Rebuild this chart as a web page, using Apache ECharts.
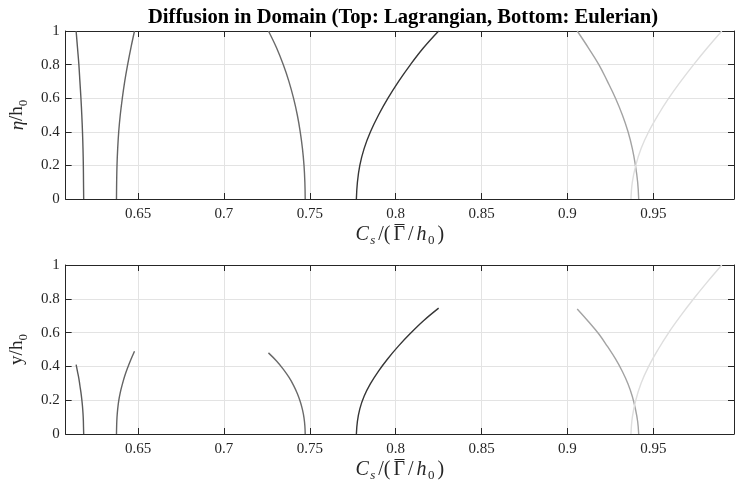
<!DOCTYPE html>
<html>
<head>
<meta charset="utf-8">
<script src="https://cdn.jsdelivr.net/npm/echarts@6/dist/echarts.min.js"></script>
<style>
  html, body { margin: 0; padding: 0; background: #fff; }
  #chart { width: 735px; height: 485px; }
</style>
</head>
<body>
<div id="chart"></div>
<script>
// x tick labels
const xTicks = [0.65, 0.7, 0.75, 0.8, 0.85, 0.9, 0.95];

// normalised depth (top panel, Lagrangian)
const etaLevels = [0, 0.1, 0.2, 0.3, 0.4, 0.5, 0.6, 0.7, 0.8, 0.9, 1];

// Cs/(Gamma/h0) of each profile at those depths
const profile1X = [0.6183, 0.6182, 0.6181, 0.6179, 0.6176, 0.6172, 0.6167, 0.6161, 0.6155, 0.6147, 0.6139];
const profile2X = [0.6374, 0.6375, 0.6377, 0.6381, 0.6387, 0.6396, 0.6408, 0.6422, 0.6439, 0.6458, 0.6479];
const profile3X = [0.7473, 0.7471, 0.7466, 0.7457, 0.7444, 0.7427, 0.7405, 0.7378, 0.7345, 0.7306, 0.7259];
const profile4X = [0.7771, 0.7777, 0.7791, 0.7816, 0.7853, 0.7900, 0.7955, 0.8017, 0.8086, 0.8162, 0.8250];
const profile5X = [0.9415, 0.9409, 0.9396, 0.9378, 0.9353, 0.9320, 0.9280, 0.9233, 0.9183, 0.9122, 0.9057];
const profile6X = [0.9370, 0.9378, 0.9398, 0.9429, 0.9473, 0.9528, 0.9590, 0.9660, 0.9735, 0.9815, 0.9899];

// physical height of the same points (bottom panel, Eulerian)
const profile1Y = [0, 0.041, 0.082, 0.123, 0.164, 0.205, 0.246, 0.287, 0.328, 0.369, 0.41];
const profile2Y = [0, 0.049, 0.098, 0.147, 0.196, 0.245, 0.294, 0.343, 0.392, 0.441, 0.49];
const profile3Y = [0, 0.048, 0.096, 0.144, 0.192, 0.24, 0.288, 0.336, 0.384, 0.432, 0.48];
const profile4Y = [0, 0.0745, 0.149, 0.2235, 0.298, 0.3725, 0.447, 0.5215, 0.596, 0.6705, 0.745];
const profile5Y = [0, 0.074, 0.148, 0.222, 0.296, 0.37, 0.444, 0.518, 0.592, 0.666, 0.74];
const profile6Y = [0, 0.1, 0.2, 0.3, 0.4, 0.5, 0.6, 0.7, 0.8, 0.9, 1];

const profileColors = ['#5a5a5a', '#646464', '#6a6a6a', '#363636', '#a3a3a3', '#dedede'];

const serif = '"Liberation Serif", "Times New Roman", serif';
const ink = '#262626';

function pairs(xs, ys) {
    return xs.map((x, i) => [x, ys[i]]);
}

const profilesX = [profile1X, profile2X, profile3X, profile4X, profile5X, profile6X];
const profilesY = [profile1Y, profile2Y, profile3Y, profile4Y, profile5Y, profile6Y];

// rich styles for the axis names (math-like)
const padX = 1.5;
const nameRich = {
    i: { fontFamily: serif, fontStyle: 'italic', fontSize: 20, color: ink, verticalAlign: 'top', padding: [0, padX, 0, padX] },
    n: { fontFamily: serif, fontSize: 20, color: ink, verticalAlign: 'top', padding: [0, padX, 0, padX] },
    sub: { fontFamily: serif, fontSize: 13, color: ink, verticalAlign: 'top', padding: [9, padX, 0, 0] },
    isub: { fontFamily: serif, fontStyle: 'italic', fontSize: 13, color: ink, verticalAlign: 'top', padding: [9, padX, 0, 0] },
    ysub: { fontFamily: serif, fontSize: 13, color: ink, verticalAlign: 'top', padding: [9, 0, 0, 0] },
    yi: { fontFamily: serif, fontStyle: 'italic', fontSize: 19, color: ink, verticalAlign: 'top' },
    yn: { fontFamily: serif, fontSize: 19, color: ink, verticalAlign: 'top' }
};

// x-axis name, token by token; token 3 (Gamma) gets a bar on a thin line above
const xNameTokens = [['i', 'C'], ['isub', 's'], ['n', '/('], ['n', 'Γ'], ['n', '/'], ['i', 'h'], ['sub', '0'], ['n', ')']];

const measureCtx = document.createElement('canvas').getContext('2d');
function tokenWidth(t) {
    const s = nameRich[t[0]];
    measureCtx.font = (s.fontStyle === 'italic' ? 'italic ' : '') + s.fontSize + 'px ' + serif;
    return measureCtx.measureText(t[1]).width + s.padding[1] + s.padding[3];
}
const tokenWidths = xNameTokens.map(tokenWidth);
const nameWidth = tokenWidths.reduce((a, b) => a + b, 0);
const barStart = tokenWidths.slice(0, 3).reduce((a, b) => a + b, 0) + padX + 1;
const barWidth = tokenWidths[3] - 2 * padX - 1.5;

const thin = { fontSize: 1, lineHeight: 1, height: 1, color: 'rgba(0,0,0,0)', verticalAlign: 'top' };
nameRich.sp1 = Object.assign({ width: barStart }, thin);
nameRich.ov = Object.assign({ width: barWidth, backgroundColor: ink }, thin);
nameRich.sp2 = Object.assign({ width: nameWidth - barStart - barWidth }, thin);

const xName = '{sp1| }{ov| }{sp2| }\n' + xNameTokens.map(t => '{' + t[0] + '|' + t[1] + '}').join('');

function xAxisMain(grid) {
    return {
        type: 'value', gridIndex: grid, position: 'bottom',
        min: 0.6078, max: 0.997,
        name: xName,
        nameLocation: 'middle', nameGap: 25,
        nameTextStyle: { rich: nameRich },
        axisLine: { show: true, onZero: false, lineStyle: { color: ink, width: 1 } },
        axisTick: { show: true, inside: true, length: 6, customValues: xTicks, lineStyle: { color: ink } },
        axisLabel: { customValues: xTicks, color: ink, fontFamily: serif, fontSize: 15, margin: 8 },
        splitLine: { show: true, lineStyle: { color: '#e3e3e3', width: 1 } }
    };
}

function xAxisTop(grid) {
    return {
        type: 'value', gridIndex: grid, position: 'top',
        min: 0.6078, max: 0.997,
        axisLine: { show: true, onZero: false, lineStyle: { color: ink, width: 1 } },
        axisTick: { show: true, inside: true, length: 6, customValues: xTicks, lineStyle: { color: ink } },
        axisLabel: { show: false },
        splitLine: { show: false }
    };
}

function yAxisMain(grid, label) {
    return {
        type: 'value', gridIndex: grid, position: 'left',
        min: 0, max: 1, interval: 0.2,
        name: label, nameLocation: 'middle', nameGap: 26,
        nameTextStyle: { rich: nameRich },
        axisLine: { show: true, onZero: false, lineStyle: { color: ink, width: 1 } },
        axisTick: { show: true, inside: true, length: 6, lineStyle: { color: ink } },
        axisLabel: { color: ink, fontFamily: serif, fontSize: 15, margin: 6 },
        splitLine: { show: true, lineStyle: { color: '#e3e3e3', width: 1 } }
    };
}

function yAxisRight(grid) {
    return {
        type: 'value', gridIndex: grid, position: 'right',
        min: 0, max: 1, interval: 0.2,
        axisLine: { show: true, onZero: false, lineStyle: { color: ink, width: 1 } },
        axisTick: { show: true, inside: true, length: 6, lineStyle: { color: ink } },
        axisLabel: { show: false },
        splitLine: { show: false }
    };
}

const series = [];
profilesX.forEach((xs, k) => {
    series.push({
        type: 'line', xAxisIndex: 0, yAxisIndex: 0,
        data: pairs(xs, etaLevels),
        smooth: 0.4, showSymbol: false, silent: true,
        lineStyle: { color: profileColors[k], width: 1.4 }
    });
    series.push({
        type: 'line', xAxisIndex: 2, yAxisIndex: 2,
        data: pairs(xs, profilesY[k]),
        smooth: 0.4, showSymbol: false, silent: true,
        lineStyle: { color: profileColors[k], width: 1.4 }
    });
});

const option = {
    animation: false,
    backgroundColor: '#fff',
    title: {
        text: 'Diffusion in Domain (Top: Lagrangian, Bottom: Eulerian)',
        left: 398, top: 2, textAlign: 'center',
        textStyle: { fontFamily: serif, fontWeight: 'bold', fontSize: 20.6, color: '#000' }
    },
    grid: [
        { left: 63, right: 1, top: 31, height: 168 },
        { left: 63, right: 1, top: 265, height: 169 }
    ],
    xAxis: [xAxisMain(0), xAxisTop(0), xAxisMain(1), xAxisTop(1)],
    yAxis: [
        yAxisMain(0, '{yi|η}{yn|/h}{ysub|0}'), yAxisRight(0),
        yAxisMain(1, '{yn|y/h}{ysub|0}'), yAxisRight(1)
    ],
    series: series
};

echarts.init(document.getElementById('chart'), null, { renderer: 'canvas' }).setOption(option);
</script>
</body>
</html>
